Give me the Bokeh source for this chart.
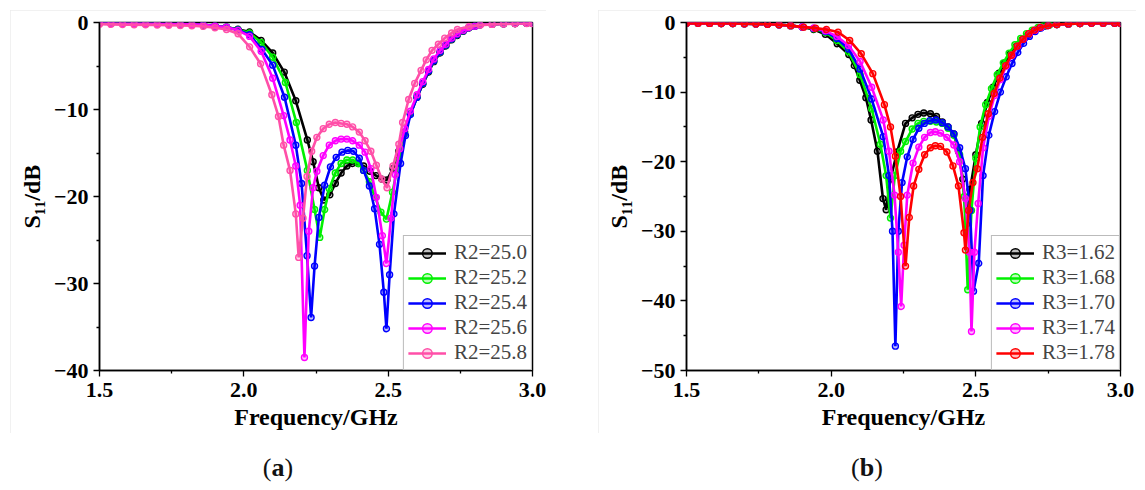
from bokeh.plotting import figure
from bokeh.models import (Legend, LegendItem, FixedTicker, CustomJSTickFormatter, Div, Range1d)
from bokeh.layouts import row, column
from bokeh.embed import file_html
from bokeh.resources import INLINE

# ---------------- data: panel (a) ----------------
flat_f = [1.50, 1.54, 1.58, 1.62, 1.66, 1.70, 1.74, 1.78, 1.82, 1.86, 1.90, 1.94, 1.98]
flat_a = [-0.10, -0.10, -0.11, -0.12, -0.13, -0.15, -0.17, -0.19, -0.22, -0.27, -0.40, -0.54, -0.78]
tail_f = [2.80, 2.818, 2.86, 2.90, 2.94, 2.98, 3.00]
tail_a = [-0.42, -0.27, -0.20, -0.15, -0.12, -0.10, -0.10]

a_labels = ["R2=25.0", "R2=25.2", "R2=25.4", "R2=25.6", "R2=25.8"]

a0_f = flat_f + [2.02, 2.06, 2.10, 2.14, 2.18, 2.22, 2.24, 2.26, 2.277, 2.298, 2.317, 2.337, 2.357, 2.377,
                 2.397, 2.415, 2.437, 2.458, 2.478, 2.496, 2.517, 2.537, 2.557, 2.577, 2.60, 2.62, 2.64,
                 2.658, 2.68, 2.70, 2.72, 2.739, 2.76, 2.779] + tail_f
a0_v = flat_a + [-1.1, -2.05, -3.5, -5.7, -9.0, -13.5, -16.0, -19.0, -20.4, -19.8, -18.5, -17.3, -16.5, -16.2,
                 -16.2, -16.5, -17.1, -17.6, -18.0, -18.1, -16.8, -14.8, -12.6, -10.5, -8.6, -7.1, -5.7,
                 -4.5, -3.5, -2.7, -2.0, -1.5, -1.0, -0.65] + tail_a

a1_f = flat_f + [2.02, 2.06, 2.10, 2.144, 2.182, 2.22, 2.245, 2.263, 2.28, 2.296, 2.317, 2.337, 2.357, 2.377,
                 2.397, 2.415, 2.435, 2.455, 2.475, 2.494, 2.515, 2.537, 2.557, 2.577, 2.60, 2.62, 2.64,
                 2.658, 2.68, 2.70, 2.72, 2.739, 2.76, 2.779] + tail_f
a1_v = flat_a[:-1] + [-0.82] + [-1.2, -2.3, -4.0, -6.9, -11.5, -17.0, -21.5, -24.7, -21.5, -19.1, -17.3, -16.2, -15.8, -15.8,
                 -16.2, -17.0, -18.3, -20.1, -21.8, -22.6, -19.5, -15.9, -12.8, -10.5, -8.5, -7.0, -5.6,
                 -4.4, -3.4, -2.6, -1.9, -1.4, -0.95, -0.62] + tail_a

a2_f = flat_f + [2.02, 2.063, 2.10, 2.141, 2.18, 2.20, 2.219, 2.233, 2.245, 2.26, 2.28, 2.30, 2.32, 2.34,
                 2.36, 2.38, 2.40, 2.415, 2.435, 2.453, 2.47, 2.485, 2.494, 2.505, 2.52, 2.543, 2.56, 2.577,
                 2.60, 2.62, 2.64, 2.658, 2.68, 2.70, 2.72, 2.739, 2.76, 2.779] + tail_f
a2_v = flat_a[:-1] + [-0.85] + [-1.4, -3.1, -4.9, -8.6, -14.1, -18.5, -26.8, -33.9, -28.0, -22.4, -18.7, -16.6, -15.5, -14.9,
                 -14.7, -14.8, -15.6, -17.0, -18.8, -21.4, -25.5, -31.0, -35.2, -29.0, -22.0, -16.2, -13.0, -10.6,
                 -8.6, -7.0, -5.6, -4.4, -3.4, -2.6, -1.9, -1.4, -0.95, -0.62] + tail_a

a3_f = flat_f + [2.02, 2.06, 2.10, 2.138, 2.16, 2.18, 2.195, 2.21, 2.225, 2.24, 2.253, 2.275, 2.296, 2.317,
                 2.337, 2.357, 2.377, 2.40, 2.42, 2.44, 2.459, 2.48, 2.494, 2.51, 2.525, 2.54, 2.557, 2.577,
                 2.60, 2.62, 2.64, 2.658, 2.68, 2.70, 2.72, 2.739, 2.76, 2.779] + tail_f
a3_v = flat_a[:-1] + [-0.9] + [-1.6, -3.3, -6.4, -10.7, -13.5, -16.5, -21.0, -38.5, -24.0, -19.0, -17.1, -15.3, -14.1, -13.6,
                 -13.4, -13.4, -13.6, -14.1, -14.9, -16.8, -20.1, -24.5, -27.7, -22.5, -17.5, -14.5, -12.2, -10.2,
                 -8.3, -6.8, -5.4, -4.2, -3.2, -2.5, -1.8, -1.3, -0.9, -0.6] + tail_a

a4_f = [1.50, 1.54, 1.58, 1.62, 1.66, 1.70, 1.74, 1.78, 1.82, 1.86, 1.90, 1.94, 1.98, 2.02, 2.058, 2.097,
        2.12, 2.138, 2.16, 2.18, 2.19, 2.205, 2.219, 2.235, 2.253, 2.275, 2.296, 2.317, 2.337, 2.357, 2.377,
        2.40, 2.42, 2.44, 2.459, 2.478, 2.496, 2.517, 2.537, 2.55, 2.571, 2.592, 2.614, 2.632, 2.652, 2.674,
        2.696, 2.72, 2.74, 2.78, 2.82, 2.86, 2.90, 2.94, 2.98, 3.00]
a4_v = [-0.2, -0.22, -0.24, -0.25, -0.27, -0.29, -0.31, -0.34, -0.38, -0.45, -0.6, -0.8, -1.3, -2.8, -4.75, -8.3,
        -10.8, -14.1, -17.0, -22.0, -27.0, -22.5, -17.7, -14.8, -13.2, -12.2, -11.7, -11.5, -11.6, -11.7, -12.0,
        -12.6, -13.6, -14.8, -16.4, -18.0, -19.0, -16.5, -14.0, -11.5, -8.85, -7.0, -5.5, -4.3, -3.2, -2.5,
        -1.8, -1.2, -0.8, -0.45, -0.3, -0.22, -0.18, -0.15, -0.12, -0.12]

a_f = [a0_f, a1_f, a2_f, a3_f, a4_f]
a_v = [a0_v, a1_v, a2_v, a3_v, a4_v]
a_colors = ["#000000", "#00f000", "#0000ff", "#ff00ff", "#ff4fa8"]

# ---------------- data: panel (b) ----------------
bflat_f = [1.50, 1.54, 1.58, 1.62, 1.66, 1.70, 1.74, 1.78, 1.82, 1.86, 1.90]
bflat_v = [-0.12, -0.12, -0.13, -0.14, -0.15, -0.17, -0.20, -0.25, -0.32, -0.45, -0.65]
btail_f = [2.78, 2.82, 2.86, 2.90, 2.94, 2.98, 3.00]
btail_v = [-0.3, -0.2, -0.15, -0.12, -0.1, -0.1, -0.1]

b_labels = ["R3=1.62", "R3=1.68", "R3=1.70", "R3=1.74", "R3=1.78"]

b0_f = bflat_f + [1.94, 1.98, 2.021, 2.061, 2.08, 2.099, 2.12, 2.138, 2.16, 2.179, 2.19, 2.205, 2.228, 2.257,
                  2.28, 2.30, 2.32, 2.343, 2.364, 2.384, 2.404, 2.424, 2.44, 2.455, 2.468, 2.48, 2.50, 2.52,
                  2.54, 2.56, 2.58, 2.60, 2.62, 2.64, 2.66, 2.68, 2.70, 2.72, 2.74] + btail_f
b0_v = bflat_v + [-1.0, -1.7, -3.05, -4.6, -6.2, -8.3, -10.8, -14.0, -18.5, -25.3, -26.9, -22.5, -18.6, -14.5,
                  -13.7, -13.2, -13.0, -13.1, -13.5, -14.3, -15.0, -16.0, -18.5, -22.5, -29.0, -24.0, -19.0, -14.5,
                  -11.5, -9.3, -7.3, -5.8, -4.5, -3.4, -2.5, -1.8, -1.2, -0.8, -0.5] + btail_v

b1_f = bflat_f + [1.94, 1.98, 2.02, 2.06, 2.10, 2.14, 2.17, 2.19, 2.205, 2.22, 2.24, 2.257, 2.28, 2.30, 2.32,
                  2.343, 2.364, 2.384, 2.404, 2.424, 2.444, 2.46, 2.472, 2.485, 2.50, 2.515, 2.534, 2.554, 2.574,
                  2.595, 2.615, 2.635, 2.655, 2.675, 2.695, 2.715, 2.735, 2.755] + btail_f
b1_v = bflat_v + [-0.9, -1.4, -2.6, -4.2, -7.5, -12.4, -17.5, -22.0, -28.1, -22.0, -18.5, -17.1, -15.3, -14.5, -14.2,
                  -14.2, -14.3, -14.5, -15.2, -16.2, -19.0, -25.0, -38.4, -27.0, -19.5, -15.0, -11.8, -9.5, -7.5,
                  -5.8, -4.4, -3.2, -2.3, -1.6, -1.1, -0.7, -0.45, -0.35] + btail_v

b2_f = bflat_f + [1.94, 1.98, 2.02, 2.06, 2.10, 2.14, 2.18, 2.20, 2.212, 2.222, 2.232, 2.245, 2.263, 2.283,
                  2.303, 2.322, 2.341, 2.362, 2.384, 2.404, 2.424, 2.444, 2.464, 2.48, 2.492, 2.51, 2.525, 2.545,
                  2.565, 2.585, 2.605, 2.625, 2.645, 2.665, 2.685, 2.705, 2.725, 2.75] + btail_f
b2_v = bflat_v + [-0.85, -1.3, -2.3, -3.8, -6.7, -11.0, -16.4, -22.0, -30.0, -46.5, -30.0, -23.0, -19.3, -16.8,
                  -15.2, -14.5, -14.1, -14.0, -14.4, -15.0, -16.0, -18.0, -21.0, -27.0, -38.6, -34.6, -22.0, -16.2,
                  -12.8, -10.0, -7.8, -5.9, -4.3, -3.0, -2.0, -1.3, -0.8, -0.45] + btail_v

b3_f = bflat_f + [1.94, 1.98, 2.02, 2.06, 2.10, 2.14, 2.18, 2.20, 2.219, 2.232, 2.242, 2.252, 2.263, 2.283,
                  2.303, 2.323, 2.343, 2.36, 2.378, 2.40, 2.424, 2.444, 2.464, 2.478, 2.485, 2.495, 2.508, 2.525,
                  2.545, 2.565, 2.585, 2.605, 2.625, 2.645, 2.665, 2.685, 2.705, 2.725, 2.75] + btail_f
b3_v = bflat_v + [-0.8, -1.2, -2.0, -3.3, -5.6, -9.3, -14.0, -18.5, -24.8, -33.0, -40.8, -32.0, -24.8, -20.2,
                  -17.9, -16.5, -15.8, -15.7, -15.9, -16.5, -17.6, -20.0, -25.3, -33.0, -44.4, -33.0, -26.0, -18.0,
                  -13.5, -10.5, -8.2, -6.3, -4.7, -3.4, -2.4, -1.6, -1.1, -0.7, -0.45] + btail_v

b4_f = bflat_f[:-1] + [1.905, 1.946, 1.984, 2.024, 2.064, 2.104, 2.144, 2.184, 2.205, 2.222, 2.24, 2.257, 2.27,
                       2.285, 2.303, 2.323, 2.343, 2.36, 2.378, 2.40, 2.421, 2.44, 2.459, 2.464, 2.475, 2.49,
                       2.505, 2.523, 2.543, 2.563, 2.583, 2.603, 2.623, 2.643, 2.663, 2.683, 2.703, 2.723, 2.75] + btail_f
b4_v = bflat_v[:-1] + [-0.67, -0.81, -1.0, -1.38, -2.58, -4.5, -7.35, -11.8, -15.0, -19.2, -25.0, -35.0, -28.0,
                       -23.5, -21.1, -19.0, -18.0, -17.7, -17.8, -18.6, -20.6, -23.5, -30.2, -32.7, -27.0, -23.0,
                       -21.0, -16.5, -13.1, -10.2, -8.0, -6.2, -4.7, -3.4, -2.4, -1.6, -1.1, -0.7, -0.45] + btail_v

b_f = [b0_f, b1_f, b2_f, b3_f, b4_f]
b_v = [b0_v, b1_v, b2_v, b3_v, b4_v]
b_colors = ["#000000", "#00f000", "#0000ff", "#ff00ff", "#ff0000"]

x_major = [1.5, 2.0, 2.5, 3.0]
x_minor = [1.75, 2.25, 2.75]

SERIF = "Liberation Serif"


def make_panel(fs, vs, colors, labels, ymin, ml, mr, fw):
    p = figure(width=ml + fw + mr, height=423, output_backend="svg", toolbar_location=None,
               x_range=Range1d(1.5, 3.0), y_range=Range1d(ymin, 0),
               min_border_left=ml, min_border_right=mr, min_border_top=12, min_border_bottom=63)
    p.frame_width = fw
    p.frame_height = 348
    items = []
    for f, v, c, lab in zip(fs, vs, colors, labels):
        ln = p.line(f, v, line_color=c, line_width=2.6)
        sc = p.scatter(f, v, marker="circle", size=6, line_color=c, line_width=1.4, fill_color=c, fill_alpha=0.25)
        items.append(LegendItem(label=lab, renderers=[ln, sc]))
    leg = Legend(items=items, location="bottom_right", margin=0, padding=4, spacing=0,
                 label_text_font=SERIF, label_text_font_size="21px", label_standoff=8,
                 glyph_width=38, glyph_height=24, label_height=24,
                 border_line_color="#777777", border_line_width=1, background_fill_alpha=1.0)
    p.add_layout(leg)

    p.grid.visible = False
    p.outline_line_color = "black"
    p.outline_line_width = 1.5
    p.background_fill_color = "white"
    p.border_fill_color = "white"

    p.xaxis.ticker = FixedTicker(ticks=x_major, minor_ticks=x_minor)
    p.xaxis.formatter = CustomJSTickFormatter(code="return tick.toFixed(1);")
    yt = list(range(int(ymin), 1, 10))
    ym = [t + 5 for t in yt[:-1]]
    p.yaxis.ticker = FixedTicker(ticks=yt, minor_ticks=ym)
    p.yaxis.formatter = CustomJSTickFormatter(
        code="return tick == 0 ? '0' : '\\u2212' + Math.abs(tick).toFixed(0);")

    for ax in (p.xaxis[0], p.yaxis[0]):
        ax.axis_line_color = "black"
        ax.axis_line_width = 1.5
        ax.major_tick_line_color = "black"
        ax.minor_tick_line_color = "black"
        ax.major_tick_line_width = 1.3
        ax.minor_tick_line_width = 1.3
        ax.major_tick_in = 0
        ax.major_tick_out = 6
        ax.minor_tick_in = 0
        ax.minor_tick_out = 3
        ax.major_label_text_font = SERIF
        ax.major_label_text_font_style = "bold"
        ax.major_label_text_font_size = "22px"
        ax.major_label_text_color = "black"
        ax.axis_label_text_font = SERIF
        ax.axis_label_text_font_style = "bold"
        ax.axis_label_text_font_size = "24px"
        ax.axis_label_text_color = "black"
    p.xaxis.axis_label = "Frequency/GHz"
    p.xaxis.major_label_standoff = 6
    p.xaxis.axis_label_standoff = 4
    p.yaxis.axis_label = "S\u2081\u2081/dB"
    p.yaxis.major_label_standoff = 5
    p.yaxis.axis_label_standoff = 6
    p.styles = {"outline": "2px solid #ececec", "outline-offset": "-2px"}
    return p


pa = make_panel(a_f, a_v, a_colors, a_labels, -40, 89, 14, 433)
pa.margin = (10, 0, 0, 10)
pb = make_panel(b_f, b_v, b_colors, b_labels, -50, 88, 16, 434)
pb.margin = (10, 0, 0, 52)

cap_style = "width:{w}px;text-align:center;font-family:'Liberation Serif';font-size:26px;color:#111"
cap_a = Div(text='<div style="' + cap_style.format(w=536) + '">(<b>a</b>)</div>',
            width=536, height=32, margin=(16, 0, 0, 10))
cap_b = Div(text='<div style="' + cap_style.format(w=538) + '">(<b>b</b>)</div>',
            width=538, height=32, margin=(16, 0, 0, 52))

layout = row(column(pa, cap_a), column(pb, cap_b))
open("out.html", "w").write(file_html(layout, INLINE))
